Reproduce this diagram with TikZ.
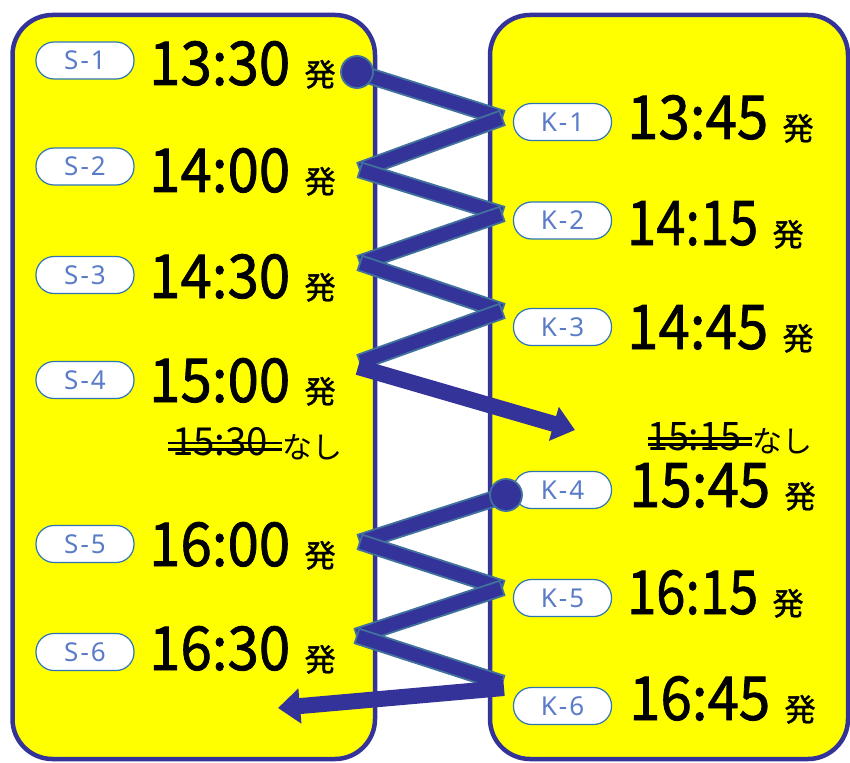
\documentclass[tikz,border=0pt]{standalone}
\usepackage{fontspec}
\setmainfont{Noto Sans CJK JP}
\newfontfamily\timefont[FakeBold=1.3]{Noto Sans CJK JP}
\newfontfamily\badgefont[LetterSpace=8]{Noto Sans}
\usetikzlibrary{calc,arrows.meta}
\definecolor{boxyellow}{HTML}{FFFF00}
\definecolor{navy}{HTML}{333399}
\definecolor{bandedge}{HTML}{41719C}
\definecolor{badgeedge}{HTML}{2E75B6}
\definecolor{badgetext}{HTML}{5A7CC8}
\newcommand\bandseg[2]{\filldraw[band] ($(#1)!7.6pt!90:(#2)$) -- ($(#1)!7.6pt!-90:(#2)$) -- ($(#2)!7.6pt!90:(#1)$) -- ($(#2)!7.6pt!-90:(#1)$) -- cycle;}
\newcommand\tmw[2]{\resizebox{#1}{44pt}{#2}}
\newcommand\smw[2]{\resizebox{#1}{28pt}{#2}}
\begin{document}
\begin{tikzpicture}[x=1pt,y=-1pt,
  panel/.style={draw=navy,fill=boxyellow,line width=4.5pt,rounded corners=40pt},
  badge/.style={draw=badgeedge,fill=white,line width=1.2pt,rounded corners=18pt,minimum width=98pt,minimum height=37pt,inner sep=0pt,text=badgetext,font=\badgefont\fontsize{26}{26}\selectfont},
  tm/.style={anchor=base west,inner sep=0pt,font=\timefont\fontsize{60}{60}\selectfont},
  hatsu/.style={anchor=base west,inner sep=0pt,font=\timefont\fontsize{31}{31}\selectfont},
  sm/.style={anchor=base west,inner sep=0pt,font=\fontsize{38}{38}\selectfont},
  nashi/.style={anchor=base west,inner sep=0pt,font=\fontsize{30}{30}\selectfont},
  strike/.style={draw=black,line width=2.6pt},
  band/.style={fill=navy,draw=bandedge,line width=1.8pt,line join=miter},
  arr/.style={draw=navy,line width=16pt,-{Triangle[length=22pt,width=34pt]}},
  dot/.style={circle,fill=navy,draw=bandedge,line width=1.8pt,minimum size=32pt,inner sep=0pt}]
\useasboundingbox (0,0) rectangle (850,762);
\draw[panel] (12.5,15) rectangle (375,759);
\draw[panel] (490,15) rectangle (848,759);
% badges
\node[badge] (s1) at (85,60.5) {S-1};
\node[badge] (s2) at (85,166.5) {S-2};
\node[badge] (s3) at (85,275) {S-3};
\node[badge] (s4) at (85,380) {S-4};
\node[badge] (s5) at (85,544) {S-5};
\node[badge] (s6) at (85,652) {S-6};
\node[badge] (k1) at (562.5,122) {K-1};
\node[badge] (k2) at (562.5,220.5) {K-2};
\node[badge] (k3) at (562.5,327) {K-3};
\node[badge] (k4) at (562.5,490) {K-4};
\node[badge] (k5) at (562.5,598) {K-5};
\node[badge] (k6) at (562.5,706) {K-6};
% times left
\node[tm] (t1) at (149,85) {\tmw{141pt}{13:30}};
\node[tm] (t2) at (149,192) {\tmw{141pt}{14:00}};
\node[tm] (t3) at (149,298) {\tmw{141pt}{14:30}};
\node[tm] (t4) at (149,402) {\tmw{141pt}{15:00}};
\node[tm] (t5) at (149,566) {\tmw{141pt}{16:00}};
\node[tm] (t6) at (149,670) {\tmw{141pt}{16:30}};
% times right
\node[tm] (u1) at (627,139) {\tmw{141pt}{13:45}};
\node[tm] (u2) at (627,245) {\tmw{131pt}{14:15}};
\node[tm] (u3) at (627,349) {\tmw{141pt}{14:45}};
\node[tm] (u4) at (629,507) {\tmw{141pt}{15:45}};
\node[tm] (u5) at (627,614) {\tmw{131pt}{16:15}};
\node[tm] (u6) at (629,720) {\tmw{141pt}{16:45}};
% hatsu
\foreach \t in {t1,t2,t3,t4,t5,t6,u1,u2,u3,u4,u5,u6}
  \node[hatsu] (h\t) at ($(\t.base east)+(14,1)$) {発};
% cancelled departures
\node[sm] (x1) at (172,455) {\smw{96pt}{15:30}};
\node[nashi] (n1) at (282,458) {なし};
\draw[strike] (168,443) -- (282,443);
\draw[strike] (168,449.5) -- (282,449.5);
\node[sm] (x2) at (647,450) {\smw{94pt}{15:15}};
\node[nashi] (n2) at (752,452) {なし};
\draw[strike] (648,438.5) -- (752,438.5);
\draw[strike] (648,444.5) -- (752,444.5);
% zigzag 1
\coordinate (c1) at (357,72);
\coordinate (r1) at (502,118);
\coordinate (l2) at (360,170);
\coordinate (r2) at (502,214);
\coordinate (l3) at (360,263);
\coordinate (r3) at (502,311);
\coordinate (l4) at (360,362);
\coordinate (l4b) at (358,367);
\coordinate (a1) at (575,430);
\bandseg{c1}{r1}
\bandseg{r1}{l2}
\bandseg{l2}{r2}
\bandseg{r2}{l3}
\bandseg{l3}{r3}
\bandseg{r3}{l4}
\draw[arr] (l4b) -- (a1);
\node[dot] (d1) at (c1) {};
% zigzag 2
\coordinate (c2) at (506,495);
\coordinate (l5) at (360,542);
\coordinate (r5) at (502,588);
\coordinate (l6) at (357,636);
\coordinate (r6) at (502,683);
\coordinate (r6b) at (504,688);
\coordinate (a2) at (278,708);
\bandseg{c2}{l5}
\bandseg{l5}{r5}
\bandseg{r5}{l6}
\bandseg{l6}{r6}
\draw[arr] (r6b) -- (a2);
\node[dot] (d2) at (c2) {};
\end{tikzpicture}
\end{document}
